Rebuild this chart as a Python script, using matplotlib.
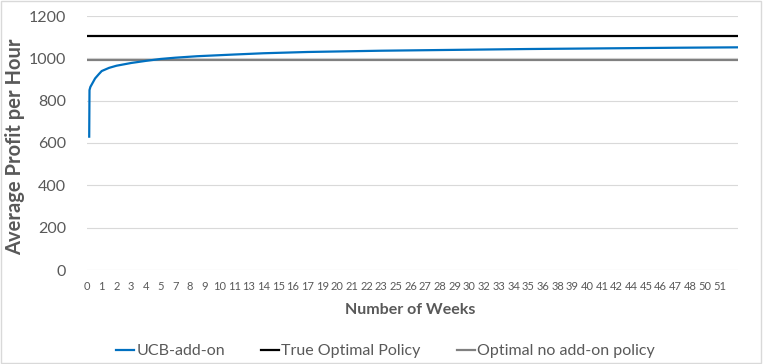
import matplotlib.pyplot as plt
import numpy as np

# week labels shown on the category axis (Excel skipped some)
week_labels = ["0", "1", "2", "3", "4", "5", "7", "8", "9", "10", "11", "13", "14", "15",
               "16", "17", "19", "20", "21", "22", "23", "25", "26", "27", "28", "29", "30",
               "32", "33", "34", "35", "36", "38", "39", "40", "41", "42", "44", "45", "46",
               "47", "48", "50", "51"]

# UCB curve (x in category positions)
ucb_pos = [0.15, 0.17, 0.23, 0.35, 0.55, 0.8, 1.0, 1.5, 2.0, 3.0, 4.0, 5.0, 6.0, 7.5,
           10.0, 12.0, 15.0, 20.0, 25.0, 30.0, 35.0, 40.0, 44.3]
ucb_val = [630, 850, 865, 880, 905, 925, 940, 955, 965, 978, 988, 997, 1003, 1010,
           1018, 1024, 1030, 1036, 1040, 1044, 1047, 1050, 1052]

true_optimal = 1105
no_addon = 992

plt.rcParams['font.family'] = ['Lato', 'DejaVu Sans']

fig = plt.figure(figsize=(7.63, 3.64), dpi=100)
ax = fig.add_axes([87/763, 94/364, 651/763, 254/364])

ax.plot(ucb_pos, ucb_val, color='#0070C0', lw=1.6, label='UCB-add-on', zorder=3)
ax.axhline(true_optimal, color='black', lw=1.6, label='True Optimal Policy')
ax.axhline(no_addon, color='#808080', lw=1.6, label='Optimal no add-on policy')

ax.set_xlim(0.15, 44.25)
ax.set_ylim(0, 1200)
ax.set_yticks(range(0, 1201, 200))
ax.yaxis.grid(True, color='#d9d9d9', lw=0.8)
ax.set_axisbelow(True)
for s in ax.spines.values():
    s.set_visible(False)
ax.tick_params(axis='y', length=0, labelsize=11.5, labelcolor='#595959', pad=15)
ax.set_xticks(range(len(week_labels)))
ax.set_xticklabels(week_labels, fontsize=8, color='#595959')
ax.tick_params(axis='x', length=0, pad=8)

ax.set_xlabel('Number of Weeks', fontsize=11.5, fontweight='bold', color='#595959')
ax.xaxis.set_label_coords(0.496, -0.128)
ax.set_ylabel('Average Profit per Hour', fontsize=14.5, fontweight='bold', color='#595959')
ax.yaxis.set_label_coords(-0.095, 0.485)

fig.legend(loc='center', bbox_to_anchor=(0.505, 0.035), ncol=3, frameon=False,
           fontsize=11.5, labelcolor='#595959', handlelength=1.13, handletextpad=0.13,
           columnspacing=2.26, borderpad=0)

fig.patches.append(plt.Rectangle((0.001, 0.002), 0.997, 0.995, transform=fig.transFigure,
                                 fill=False, edgecolor='#d9d9d9', lw=1))

fig.savefig('out.png', dpi=100)
